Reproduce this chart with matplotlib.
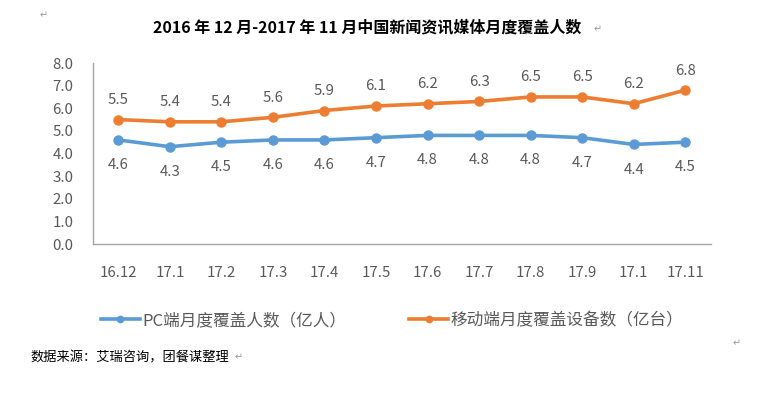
import matplotlib
matplotlib.use("Agg")
import matplotlib.pyplot as plt

plt.rcParams['font.family'] = ['Noto Sans CJK SC', 'DejaVu Sans']

## Données
months = ["16.12", "17.1", "17.2", "17.3", "17.4", "17.5", "17.6",
          "17.7", "17.8", "17.9", "17.1", "17.11"]
pc_users = [4.6, 4.3, 4.5, 4.6, 4.6, 4.7, 4.8, 4.8, 4.8, 4.7, 4.4, 4.5]
mobile_devices = [5.5, 5.4, 5.4, 5.6, 5.9, 6.1, 6.2, 6.3, 6.5, 6.5, 6.2, 6.8]
yticks = [0, 1, 2, 3, 4, 5, 6, 7, 8]

c_blue = "#5B9BD5"
c_orange = "#ED7D31"
c_text = "#595959"

fig = plt.figure(figsize=(7.69, 3.96), dpi=100)
ax = fig.add_axes([0.1204, 0.3838, 0.8042, 0.4571])

x = list(range(len(months)))
l1, = ax.plot(x, pc_users, "-o", color=c_blue, lw=2.6, ms=6.5,
              label="PC端月度覆盖人数（亿人）")
l2, = ax.plot(x, mobile_devices, "-o", color=c_orange, lw=2.6, ms=6.5,
              label="移动端月度覆盖设备数（亿台）")

for xi, v in zip(x, pc_users):
    ax.annotate(f"{v:.1f}", (xi, v), xytext=(0, -13), textcoords="offset points",
                ha="center", va="top", fontsize=10.8, color=c_text)
for xi, v in zip(x, mobile_devices):
    ax.annotate(f"{v:.1f}", (xi, v), xytext=(0, 9), textcoords="offset points",
                ha="center", va="bottom", fontsize=10.8, color=c_text)

ax.set_xlim(-0.5, len(months) - 0.5)
ax.set_ylim(0, 8)
ax.set_yticks(yticks)
ax.set_yticklabels([f"{t:.1f}" for t in yticks])
ax.set_xticks(x)
ax.set_xticklabels(months)
ax.tick_params(axis="both", length=0, labelsize=10.8, labelcolor=c_text)
ax.tick_params(axis="x", pad=16)
ax.tick_params(axis="y", pad=14)
for s in ["top", "right"]:
    ax.spines[s].set_visible(False)
for s in ["left", "bottom"]:
    ax.spines[s].set_color("#A6A6A6")
    ax.spines[s].set_linewidth(1)

fig.legend(handles=[l1, l2], loc="center", bbox_to_anchor=(0.51, 0.19),
           ncol=2, frameon=False, fontsize=12, columnspacing=3.8,
           handlelength=2.3, handletextpad=0.15, markerscale=0.7,
           labelcolor=c_text)

fig.text(0.478, 0.932, "2016 年 12 月-2017 年 11 月中国新闻资讯媒体月度覆盖人数",
         ha="center", va="center", fontsize=11.5, fontweight="bold")
fig.text(0.772, 0.925, "↵", ha="left", va="center", fontsize=7, color="#999999",
         family="DejaVu Sans")
fig.text(0.04, 0.097, "数据来源：艾瑞咨询，团餐谋整理", ha="left", va="center", fontsize=9.5)
fig.text(0.305, 0.097, "↵", ha="left", va="center", fontsize=7, color="#999999",
         family="DejaVu Sans")
fig.text(0.052, 0.962, "↵", ha="left", va="center", fontsize=7, color="#999999",
         family="DejaVu Sans")
fig.text(0.953, 0.134, "↵", ha="left", va="center", fontsize=7, color="#999999",
         family="DejaVu Sans")

fig.savefig("out.png", dpi=100)
